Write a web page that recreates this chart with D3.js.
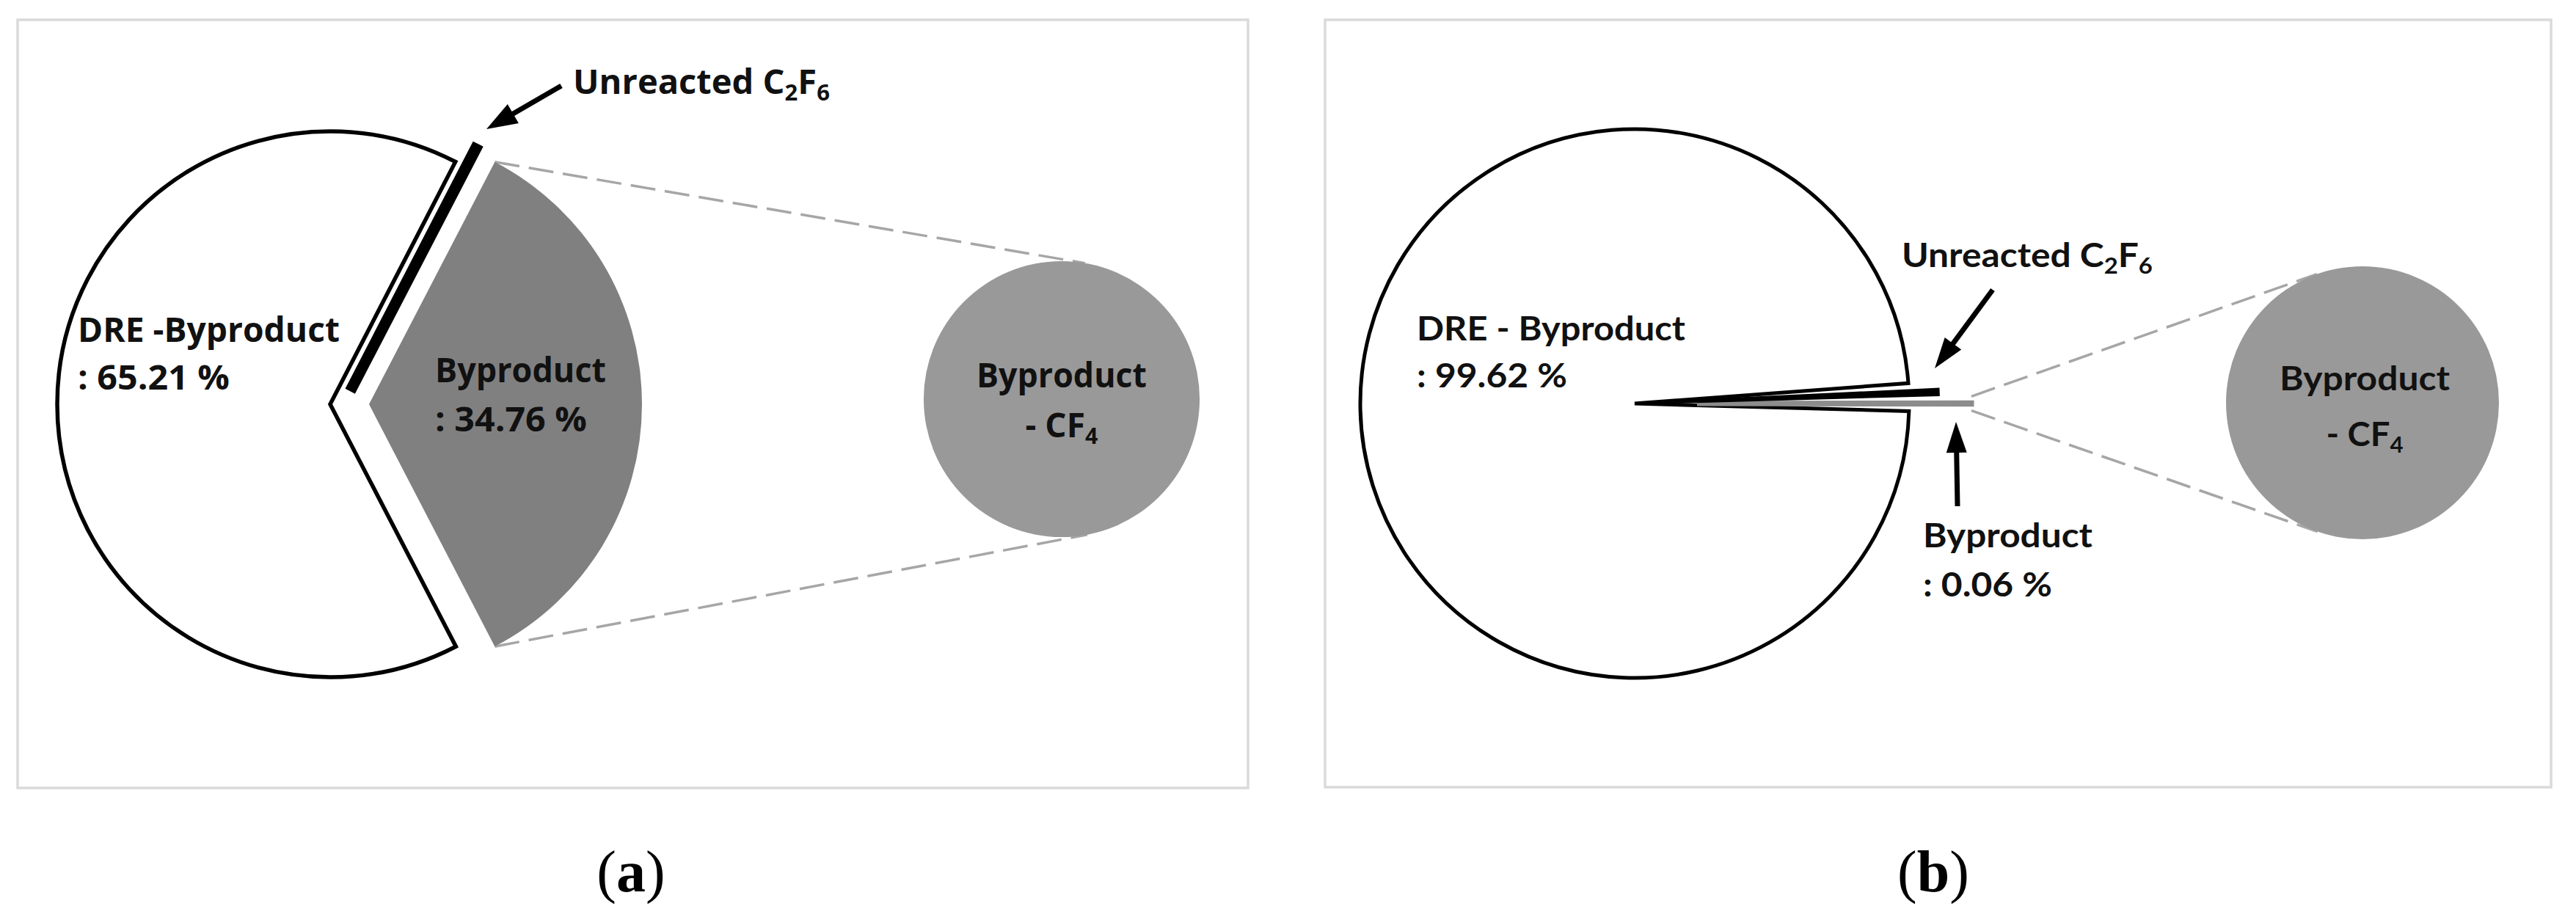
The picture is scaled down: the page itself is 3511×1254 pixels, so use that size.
<!DOCTYPE html>
<html><head><meta charset="utf-8">
<script src="https://cdn.jsdelivr.net/npm/d3@7"></script>
<style>html,body{margin:0;padding:0;background:#fff;}</style>
</head><body>
<script>
// ---------- DATA ----------
const categories = ["Unreacted C2F6", "Byproduct", "DRE - Byproduct"];
const valuesA = [0.03, 34.76, 65.21];   // panel (a), %
const valuesB = [0.32, 0.06, 99.62];    // panel (b), %
const secondPieValues = [100];          // "Byproduct - CF4" breakdown pie
const dreNamesA = ["DRE -Byproduct"];
const dreNamesB = ["DRE - Byproduct"];
const panelTags = ["a", "b"];

// ---------- LAYOUT / STYLE ----------
const W = 3511, H = 1254;
const svg = d3.select("body").append("svg").attr("width", W).attr("height", H);
svg.append("rect").attr("width", W).attr("height", H).attr("fill", "#fff");

const sub = s => ({t: s, sub: true});
const txt = s => ({t: s});

function drawText(g, x, y, parts, font, anchor, targetW) {
  const grp = g.append("g").attr("transform", `translate(${x},${y})`);
  const t = grp.append("text")
    .attr("font-family", font.family).attr("font-weight", font.weight)
    .attr("font-size", font.size).attr("text-anchor", anchor).attr("fill", "#111");
  let shifted = false;
  const sh = font.size * 0.2;
  parts.forEach(p => {
    const ts = t.append("tspan").text(p.t);
    if (p.sub) { ts.attr("font-size", font.size * 0.66).attr("dy", sh); shifted = true; }
    else if (shifted) { ts.attr("dy", -sh); shifted = false; }
  });
  if (targetW) {
    const w = t.node().getComputedTextLength();
    if (w > 0) grp.attr("transform", `translate(${x},${y}) scale(${targetW / w},1)`);
  }
}

function arrow(g, from, to, w, hl, hw) {
  const dx = to[0] - from[0], dy = to[1] - from[1];
  const L = Math.hypot(dx, dy), ux = dx / L, uy = dy / L;
  const bx = to[0] - ux * hl, by = to[1] - uy * hl;
  g.append("line").attr("x1", from[0]).attr("y1", from[1])
    .attr("x2", bx + ux * 2).attr("y2", by + uy * 2)
    .attr("stroke", "#000").attr("stroke-width", w);
  g.append("path").attr("d",
    `M${to[0]},${to[1]}L${bx - uy * hw / 2},${by + ux * hw / 2}L${bx + uy * hw / 2},${by - ux * hw / 2}Z`)
    .attr("fill", "#000");
}

function tangentPoint(P, C, r, upper) {
  const d = Math.hypot(P[0] - C[0], P[1] - C[1]);
  const phi = Math.atan2(P[1] - C[1], P[0] - C[0]);
  const th = Math.acos(r / d);
  const p1 = [C[0] + r * Math.cos(phi + th), C[1] + r * Math.sin(phi + th)];
  const p2 = [C[0] + r * Math.cos(phi - th), C[1] + r * Math.sin(phi - th)];
  return upper ? (p1[1] < p2[1] ? p1 : p2) : (p1[1] > p2[1] ? p1 : p2);
}

const deg = Math.PI / 180;
const panels = [
  {
    values: valuesA, dreName: dreNamesA[0],
    frame: [24, 27, 1677, 1047],
    center: [468, 551], r: 372, explode: [20, 35, 18], pad: 0,
    styles: [
      {fill: "#000", stroke: "#000", sw: 15},
      {fill: "#808080", stroke: "none", sw: 0},
      {fill: "#fff", stroke: "#000", sw: 5.5}
    ],
    second: {c: [1447, 544], r: 188},
    connSpread: 0,
    font: {family: "Open Sans", weight: 700, size: 46},
    dreLabel: {x: 106, y: 466, y2: 531, w1: 357, w2: 207},
    bypLabel: {x: 593, y: 521, y2: 588, w1: 233, w2: 207},
    unrLabel: {x: 781, y: 128, w: 350},
    secLabel: {x: 1447, y: 528, y2: 596, w1: 232, w2: 99},
    arrows: [{from: [765, 117], to: [663, 176], w: 7, hl: 42, hw: 30}],
    tag: {x: 860, y: 1215}
  },
  {
    values: valuesB, dreName: dreNamesB[0],
    frame: [1806, 27, 1671, 1046],
    center: [2228, 550], r: 374, explode: [40, 85, 0], pad: 1.5 * deg,
    styles: [
      {fill: "#000", stroke: "#000", sw: 4},
      {fill: "#8c8c8c", stroke: "#8c8c8c", sw: 7},
      {fill: "#fff", stroke: "#000", sw: 5}
    ],
    second: {c: [3220, 549], r: 186},
    connSpread: 9,
    font: {family: "Lato", weight: 700, size: 46},
    dreLabel: {x: 1931, y: 464, y2: 528, w1: 366, w2: 205},
    bypLabel: {x: 2621, y: 746, y2: 813, w1: 231, w2: 176},
    unrLabel: {x: 2592, y: 364, w: 342},
    secLabel: {x: 3223, y: 532, y2: 608, w1: 232, w2: 105},
    arrows: [
      {from: [2716, 395], to: [2637, 502], w: 7, hl: 42, hw: 28},
      {from: [2668, 690], to: [2666, 575], w: 7, hl: 42, hw: 28}
    ],
    tag: {x: 2635, y: 1215}
  }
];

panels.forEach((P, pi) => {
  const g = svg.append("g");
  // frame
  g.append("rect").attr("x", P.frame[0]).attr("y", P.frame[1])
    .attr("width", P.frame[2]).attr("height", P.frame[3])
    .attr("fill", "#fff").attr("stroke", "#dadada").attr("stroke-width", 3.5);

  const total = d3.sum(P.values);
  const avail = 2 * Math.PI - P.pad * P.values.length;
  const start = Math.PI / 2 - (P.values[0] + P.values[1] / 2) / total * avail - 1.5 * P.pad;
  const pie = d3.pie().sort(null).value(d => d).padAngle(P.pad)
    .startAngle(start).endAngle(start + 2 * Math.PI);
  const arcs = pie(P.values);
  const arcGen = d3.arc().innerRadius(0).outerRadius(P.r).padAngle(0);
  const sA = d => d.startAngle + d.padAngle / 2, eA = d => d.endAngle - d.padAngle / 2;
  const offset = (d, i) => {
    const m = (d.startAngle + d.endAngle) / 2;
    return [P.center[0] + P.explode[i] * Math.sin(m), P.center[1] - P.explode[i] * Math.cos(m)];
  };

  // connector lines (drawn first)
  const gd = arcs[1], go = offset(gd, 1);
  const cU = [go[0] + P.r * Math.sin(sA(gd)), go[1] - P.r * Math.cos(sA(gd)) - P.connSpread];
  const cL = [go[0] + P.r * Math.sin(eA(gd)), go[1] - P.r * Math.cos(eA(gd)) + P.connSpread];
  const tU = tangentPoint(cU, P.second.c, P.second.r, true);
  const tL = tangentPoint(cL, P.second.c, P.second.r, false);
  [[cU, tU], [cL, tL]].forEach(([a, b]) => {
    g.append("line").attr("x1", a[0]).attr("y1", a[1]).attr("x2", b[0]).attr("y2", b[1])
      .attr("stroke", "#a6a6a6").attr("stroke-width", 3.5).attr("stroke-dasharray", "34,13");
  });

  // slices: DRE first, then byproduct, then unreacted on top
  [2, 1, 0].forEach(i => {
    const d = arcs[i], o = offset(d, i), s = P.styles[i];
    const dd = {startAngle: sA(d), endAngle: eA(d)};
    g.append("path").attr("d", arcGen(dd))
      .attr("transform", `translate(${o[0]},${o[1]})`)
      .attr("fill", s.fill).attr("stroke", s.stroke).attr("stroke-width", s.sw)
      .attr("stroke-linejoin", "miter").attr("stroke-miterlimit", 4);
  });

  // second pie (Byproduct - CF4)
  const pie2 = d3.pie().sort(null)(secondPieValues);
  const arc2 = d3.arc().innerRadius(0).outerRadius(P.second.r);
  g.selectAll(".sec").data(pie2).enter().append("path")
    .attr("d", arc2).attr("transform", `translate(${P.second.c[0]},${P.second.c[1]})`)
    .attr("fill", "#999999");

  // labels
  const f = P.font;
  drawText(g, P.dreLabel.x, P.dreLabel.y, [txt(P.dreName)], f, "start", P.dreLabel.w1);
  drawText(g, P.dreLabel.x, P.dreLabel.y2, [txt(`: ${P.values[2].toFixed(2)} %`)], f, "start", P.dreLabel.w2);
  drawText(g, P.bypLabel.x, P.bypLabel.y, [txt(categories[1])], f, "start", P.bypLabel.w1);
  drawText(g, P.bypLabel.x, P.bypLabel.y2, [txt(`: ${P.values[1].toFixed(2)} %`)], f, "start", P.bypLabel.w2);
  drawText(g, P.unrLabel.x, P.unrLabel.y, [txt("Unreacted C"), sub("2"), txt("F"), sub("6")], f, "start", P.unrLabel.w);
  drawText(g, P.secLabel.x, P.secLabel.y, [txt(categories[1])], f, "middle", P.secLabel.w1);
  drawText(g, P.secLabel.x, P.secLabel.y2, [txt("- CF"), sub("4")], f, "middle", P.secLabel.w2);

  P.arrows.forEach(a => arrow(g, a.from, a.to, a.w, a.hl, a.hw));

  // panel tag
  const t = g.append("text").attr("x", P.tag.x).attr("y", P.tag.y)
    .attr("text-anchor", "middle").attr("font-family", "Liberation Serif")
    .attr("font-size", 80).attr("fill", "#000");
  t.append("tspan").text("(");
  t.append("tspan").attr("font-weight", 700).text(panelTags[pi]);
  t.append("tspan").text(")");
});
</script>
</body></html>
